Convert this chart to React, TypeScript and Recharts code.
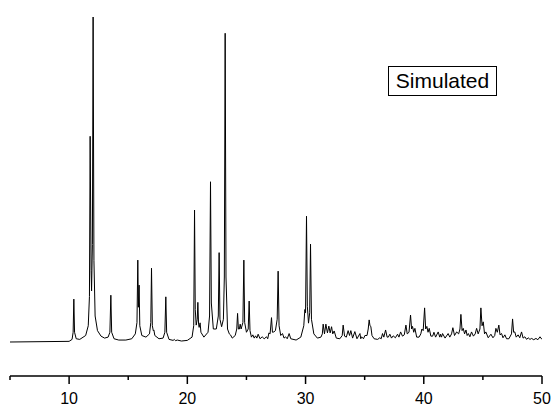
import React from 'react';
import { LineChart, Line, XAxis, YAxis } from 'recharts';

// Simulated powder pattern as [2θ (deg), relative intensity]
const lowAngle: [number, number][] = [
  [5, 0], [10.0, 0.2], [10.25, 0.8], [10.34, 3], [10.4, 13.2], [10.46, 3], [10.6, 1.0], [10.9, 0.8],
  [11.4, 2], [11.62, 5], [11.72, 14], [11.78, 63.3], [11.86, 22], [11.9, 15.7], [11.97, 30],
  [12.03, 100], [12.1, 25], [12.2, 8], [12.4, 3.5], [12.7, 1.8], [13.0, 1.2], [13.3, 1.5],
  [13.45, 3], [13.53, 14.4], [13.6, 3], [13.8, 1.0], [14.2, 0.6],
];

const midLowAngle: [number, number][] = [
  [14.8, 0.6], [15.3, 1.0], [15.6, 2.5], [15.74, 6], [15.81, 25.2], [15.86, 10.7], [15.92, 17.5],
  [15.98, 5], [16.15, 2.0], [16.5, 1.5], [16.8, 2.5], [16.91, 6], [16.97, 22.7], [17.04, 5],
  [17.12, 3.5], [17.17, 3.7], [17.25, 2], [17.6, 1.0], [17.95, 1.2], [18.1, 3], [18.18, 13.9],
  [18.25, 3], [18.45, 0.8], [18.8, 0.5], [18.9, 0.8], [19.0, 0.4], [19.15, 0.6], [19.5, 0.3],
];

const midAngle: [number, number][] = [
  [20.0, 0.5], [20.4, 1.5], [20.54, 5], [20.61, 40.6], [20.67, 10], [20.75, 5.2], [20.84, 7],
  [20.89, 12.2], [20.95, 5.5], [21.0, 4.5], [21.08, 5.9], [21.15, 3], [21.4, 1.5], [21.75, 3],
  [21.88, 8], [21.96, 49.3], [22.03, 12], [22.2, 4], [22.45, 4], [22.62, 8], [22.69, 27.5],
  [22.76, 7], [22.9, 4.7], [23.05, 7], [23.13, 20], [23.2, 95], [23.27, 20], [23.4, 4],
  [23.55, 2.5], [23.65, 2.2], [23.8, 1.2], [24.05, 2], [24.18, 4], [24.25, 8.8], [24.32, 4],
  [24.4, 4], [24.47, 5.5], [24.55, 4], [24.7, 6], [24.78, 25.2], [24.85, 6], [25.0, 3],
  [25.15, 4], [25.23, 12.6], [25.3, 3.5], [25.42, 1.5], [25.54, 2.2], [25.66, 1.2], [25.77, 1.9],
  [25.88, 1.2], [25.99, 2.4], [26.15, 1.0], [26.33, 1.6], [26.5, 1.0],
];

const midHighAngle: [number, number][] = [
  [26.7, 1.6], [26.8, 1.0], [26.9, 2.8], [27.0, 2.5], [27.12, 7.5], [27.2, 3], [27.32, 3.1],
  [27.45, 3.5], [27.6, 7], [27.68, 21.8], [27.76, 5], [27.9, 2], [28.05, 2.6], [28.18, 1.2],
  [28.31, 1.6], [28.45, 1.0], [28.61, 2.6], [28.75, 1.0], [29.2, 0.6], [29.6, 1.5], [29.85, 5],
  [29.94, 10], [30.0, 9], [30.08, 38.7], [30.15, 11], [30.25, 5.8], [30.35, 9], [30.42, 30.1],
  [30.5, 7], [30.7, 2.5], [31.0, 1.2], [31.3, 1.5], [31.42, 2.5], [31.49, 5.5], [31.6, 2.5],
  [31.72, 5.5], [31.85, 2.8], [31.97, 4.9], [32.08, 2.8], [32.2, 4.7], [32.3, 2.5], [32.42, 3.4],
  [32.6, 1.2], [32.9, 1.0], [33.1, 2.0], [33.18, 5.2], [33.3, 1.8], [33.45, 1.5], [33.6, 3.5],
  [33.72, 2], [33.83, 3.5], [33.98, 1.2], [34.17, 3.2], [34.35, 1.0], [34.6, 2.6], [34.67, 1.0],
  [34.74, 1.6], [34.9, 1.0], [35.02, 2],
];

const highAngle: [number, number][] = [
  [35.2, 2], [35.3, 4], [35.38, 6.8], [35.45, 5], [35.52, 4.8], [35.62, 2], [35.8, 1.0], [36.1, 0.8],
  [36.28, 1.3], [36.4, 1.0], [36.51, 2.6], [36.62, 1.5], [36.77, 3.7], [36.9, 1.5], [37.0, 1.5],
  [37.13, 2.4], [37.27, 1.2], [37.41, 1.9], [37.6, 1.3], [37.78, 2.4], [37.9, 1.5], [38.04, 3.1],
  [38.2, 1.8], [38.35, 2.2], [38.49, 5.2], [38.6, 2.5], [38.75, 3], [38.88, 8.3], [38.97, 4],
  [39.05, 4.8], [39.15, 3], [39.25, 4.2], [39.4, 1.5], [39.6, 1.5], [39.75, 2.5], [39.84, 4.0],
  [39.95, 3.5], [40.07, 10.5], [40.16, 4], [40.26, 4.8], [40.36, 3], [40.46, 4.2], [40.6, 1.8],
  [40.75, 1.8], [40.86, 3], [41.0, 1.5], [41.22, 3.1], [41.35, 1.5], [41.42, 2.4], [41.5, 1.5],
  [41.59, 2.6], [41.8, 1.2], [42.06, 2.6], [42.2, 1.5], [42.35, 2.5], [42.46, 4.4], [42.6, 2],
  [42.78, 3.1], [42.95, 2.5], [43.06, 4], [43.14, 8.5], [43.24, 3.5], [43.34, 4.2], [43.45, 2.5],
  [43.57, 3.7], [43.67, 2], [43.77, 2.6], [43.9, 1.6], [44.04, 3.1], [44.2, 1.8], [44.35, 2.5],
  [44.47, 4.2], [44.6, 2.5], [44.75, 4], [44.83, 10.5], [44.93, 5], [45.03, 6.2], [45.14, 2.5],
  [45.25, 3.1], [45.45, 1.3], [45.68, 2.4], [45.85, 1.3], [46.0, 2], [46.1, 4.2], [46.22, 3],
  [46.35, 5.2], [46.45, 2.2], [46.58, 2.6], [46.7, 1.3], [46.86, 2.2], [47.0, 1.0], [47.2, 1.0],
  [47.42, 2.5], [47.51, 7.1], [47.6, 3], [47.7, 3.1], [47.82, 1.5], [47.98, 2.2], [48.12, 1.3],
  [48.27, 3.1], [48.4, 1.2], [48.55, 1.6], [48.7, 0.8], [48.83, 1.3], [48.98, 0.8], [49.12, 1.1],
  [49.3, 0.7], [49.49, 1.1], [49.65, 0.7], [49.83, 1.6], [50, 0.8],
];

const xTicks = [5, 10, 15, 20, 25, 30, 35, 40, 45, 50];
const legendLabel = 'Simulated';

const data = [...lowAngle, ...midLowAngle, ...midAngle, ...midHighAngle, ...highAngle].map(
  ([x, y]) => ({ x, y })
);

const FONT = 'Arial, "Liberation Sans", sans-serif';

const AxisTick = (props: any) => {
  const { x, y, payload } = props;
  const major = payload.value % 10 === 0;
  return (
    <g>
      <line x1={x} x2={x} y1={y} y2={y + (major ? 8 : 4)} stroke="#000" strokeWidth={1.5} />
      {major && (
        <text x={x} y={y + 28} textAnchor="middle" fontSize={16} fontFamily={FONT} fill="#000">
          {payload.value}
        </text>
      )}
    </g>
  );
};

export default function App() {
  return (
    <div style={{ position: 'absolute', left: 0, top: 0, width: 557, height: 410, background: '#fff' }}>
      <LineChart width={557} height={410} data={data} margin={{ top: 17, right: 15, bottom: 0, left: 10 }}>
        <XAxis
          dataKey="x"
          type="number"
          domain={[5, 50]}
          ticks={xTicks}
          interval={0}
          height={34}
          tickSize={0}
          tickMargin={0}
          tickLine={false}
          axisLine={{ stroke: '#000', strokeWidth: 1.5 }}
          tick={<AxisTick />}
          allowDataOverflow
        />
        <YAxis hide domain={[-10.46, 100]} allowDataOverflow />
        <Line
          dataKey="y"
          type="linear"
          stroke="#000"
          strokeWidth={1}
          dot={false}
          isAnimationActive={false}
        />
      </LineChart>
      <div
        style={{
          position: 'absolute',
          left: 388,
          top: 66,
          width: 107,
          height: 28,
          border: '1px solid #000',
          fontFamily: FONT,
          fontSize: 21,
          lineHeight: '28px',
          textAlign: 'center',
          color: '#000',
        }}
      >
        {legendLabel}
      </div>
    </div>
  );
}
